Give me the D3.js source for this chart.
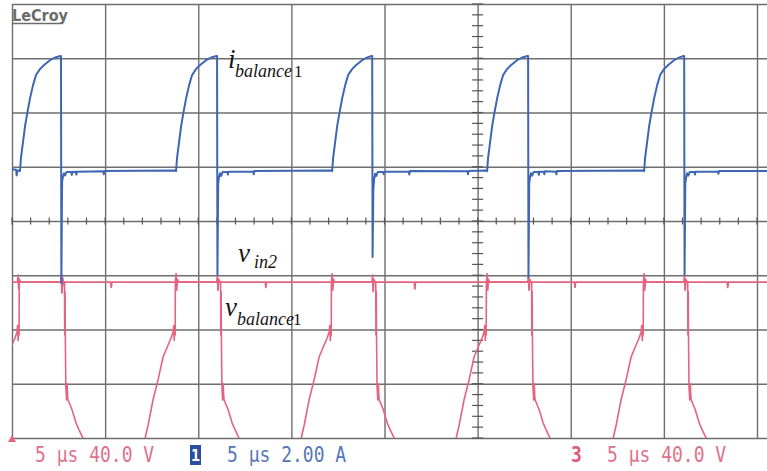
<!DOCTYPE html>
<html>
<head>
<meta charset="utf-8">
<script src="https://cdn.jsdelivr.net/npm/d3@7"></script>
<style>
  html, body { margin: 0; padding: 0; background: #ffffff; }
  svg { display: block; }
</style>
</head>
<body>
<div id="chart"></div>
<script>
// Screen setup: 8 x 8 divisions, 5 us/div horizontally.
const timeDivTicks = [0, 5, 10, 15, 20, 25, 30, 35, 40];        // us
const vertDivTicks = [-4, -3, -2, -1, 0, 1, 2, 3, 4];            // divisions

// Channel 1: i_balance1 (A), 2.00 A/div  -- [time us, current A]
const iBalance1 = [
  [0.00, 0.07], [0.22, 0.05], [0.25, -0.16], [0.30, 0.02], [0.43, 0.00],
  [0.48, 0.48], [0.59, 1.07], [0.70, 1.66], [0.81, 2.10], [0.97, 2.69], [1.13, 3.17],
  [1.29, 3.54], [1.50, 3.76], [1.72, 3.91], [2.04, 4.09], [2.36, 4.20], [2.60, 4.24],
  [2.63, 4.24], [2.65, -4.13], [2.69, -0.40], [2.73, -0.22], [2.79, -0.08], [2.85, -0.16],
  [2.93, -0.03], [3.18, -0.03], [3.21, -0.14], [3.24, -0.03], [3.43, -0.02], [3.46, -0.13],
  [3.49, -0.02], [4.90, -0.01], [4.93, -0.12], [4.96, 0.00], [8.76, 0.02],
  [8.81, 0.00], [8.86, 0.48], [8.97, 1.07], [9.08, 1.66], [9.19, 2.10], [9.35, 2.69],
  [9.51, 3.17], [9.67, 3.54], [9.88, 3.76], [10.10, 3.91], [10.42, 4.09], [10.74, 4.20],
  [10.98, 4.24], [11.01, 4.24], [11.03, -3.83], [11.07, -0.45], [11.11, -0.25],
  [11.17, -0.08], [11.23, -0.18], [11.31, -0.03], [11.56, -0.03], [11.59, -0.13],
  [11.62, -0.02], [12.95, -0.02], [12.98, -0.12], [13.01, 0.00], [17.14, 0.02],
  [17.19, 0.00], [17.24, 0.48], [17.35, 1.07], [17.46, 1.66], [17.57, 2.10], [17.73, 2.69],
  [17.89, 3.17], [18.05, 3.54], [18.26, 3.76], [18.48, 3.91], [18.80, 4.09], [19.12, 4.20],
  [19.31, 4.24], [19.34, 4.24], [19.36, -3.17], [19.40, -0.70], [19.44, -0.30],
  [19.50, -0.10], [19.56, -0.18], [19.64, -0.03], [19.93, -0.03], [19.96, -0.12],
  [19.99, -0.02], [21.30, -0.02], [21.33, -0.13], [21.36, 0.00], [24.45, -0.01],
  [24.48, -0.12], [24.51, 0.00], [25.46, 0.02],
  [25.51, 0.00], [25.56, 0.48], [25.67, 1.07], [25.78, 1.66], [25.89, 2.10], [26.05, 2.69],
  [26.21, 3.17], [26.37, 3.54], [26.58, 3.76], [26.80, 3.91], [27.12, 4.09], [27.44, 4.20],
  [27.68, 4.24], [27.71, 4.24], [27.73, -3.91], [27.77, -0.45], [27.81, -0.24],
  [27.87, -0.08], [27.93, -0.17], [28.01, -0.03], [28.26, -0.03], [28.29, -0.14],
  [28.32, -0.02], [28.55, -0.02], [28.58, -0.12], [28.61, -0.01], [29.20, -0.02],
  [29.23, -0.12], [29.26, 0.00], [33.89, 0.02],
  [33.94, 0.00], [33.99, 0.48], [34.10, 1.07], [34.21, 1.66], [34.32, 2.10], [34.48, 2.69],
  [34.64, 3.17], [34.80, 3.54], [35.01, 3.76], [35.23, 3.91], [35.55, 4.09], [35.87, 4.20],
  [36.06, 4.24], [36.09, 4.24], [36.11, -3.83], [36.15, -0.45], [36.19, -0.26],
  [36.25, -0.08], [36.31, -0.17], [36.39, -0.03], [36.64, -0.03], [36.67, -0.13],
  [36.70, -0.02], [37.90, -0.02], [37.93, -0.10], [37.96, 0.00], [40.60, 0.00]
];

// Channel 2: v_in2 (V), 40.0 V/div  -- [time us, voltage V]
const vIn2 = [
  [0.00, 115], [0.30, 115], [0.33, 120], [0.36, 110], [0.40, 117], [0.45, 115],
  [2.62, 115], [2.65, 121], [2.68, 107], [2.72, 118], [2.78, 113], [2.85, 115],
  [5.30, 115], [5.33, 111], [5.36, 115],
  [8.78, 115], [8.81, 121], [8.84, 109], [8.88, 117], [8.93, 115],
  [11.00, 115], [11.03, 120], [11.06, 109], [11.10, 117], [11.16, 115],
  [13.60, 115], [13.63, 111], [13.66, 115],
  [17.16, 115], [17.19, 121], [17.22, 109], [17.26, 117], [17.31, 115],
  [19.33, 115], [19.36, 120], [19.39, 108], [19.43, 117], [19.49, 115],
  [21.60, 115], [21.63, 110], [21.66, 115],
  [25.48, 115], [25.51, 121], [25.54, 109], [25.58, 117], [25.63, 115],
  [27.70, 115], [27.73, 120], [27.76, 109], [27.80, 117], [27.86, 115],
  [30.20, 115], [30.23, 111], [30.26, 115],
  [33.91, 115], [33.94, 121], [33.97, 109], [34.01, 117], [34.06, 115],
  [36.08, 115], [36.11, 120], [36.14, 109], [36.18, 117], [36.24, 115],
  [38.40, 115], [38.43, 111], [38.46, 115], [40.60, 115]
];

// Channel 3: v_balance1 (V), 40.0 V/div  -- [time us, voltage V]
const vBalance1 = [
  [-1.60, -30], [-1.23, 0], [-1.07, 9.6], [-0.81, 28.0], [-0.54, 42.8], [-0.27, 59.7],
  [0.00, 68.6], [0.16, 73.7], [0.27, 78.2], [0.30, 83], [0.33, 72], [0.36, 80], [0.38, 76],
  [0.39, 115],
  [2.82, 115], [2.83, 76], [2.85, 108], [2.86, 78], [2.89, 38], [2.93, 28], [2.96, 40],
  [2.99, 30], [3.01, 28], [3.22, 21], [3.44, 11], [3.63, 5], [3.81, 0], [4.03, -15],
  [4.43, -38], [5.60, -62],
  [6.61, -35], [6.96, -12], [7.15, 0], [7.31, 9.6], [7.57, 28], [7.84, 42.8], [8.11, 59.7],
  [8.38, 68.6], [8.54, 73.7], [8.65, 78.2], [8.68, 83], [8.71, 72], [8.74, 80], [8.76, 76],
  [8.77, 115],
  [11.20, 115], [11.21, 76], [11.23, 108], [11.24, 78], [11.27, 38], [11.31, 28], [11.34, 40],
  [11.37, 30], [11.39, 28], [11.60, 21], [11.82, 11], [12.01, 5], [12.19, 0], [12.41, -15],
  [12.81, -38], [14.00, -62],
  [14.99, -35], [15.34, -12], [15.53, 0], [15.69, 9.6], [15.95, 28], [16.22, 42.8],
  [16.49, 59.7], [16.76, 68.6], [16.92, 73.7], [17.03, 78.2], [17.06, 83], [17.09, 72],
  [17.12, 80], [17.14, 76], [17.15, 115],
  [19.53, 115], [19.54, 76], [19.56, 108], [19.57, 78], [19.60, 38], [19.64, 28], [19.67, 40],
  [19.70, 30], [19.72, 28], [19.93, 21], [20.15, 11], [20.34, 5], [20.52, 0], [20.74, -15],
  [21.14, -38], [22.30, -62],
  [23.31, -35], [23.66, -12], [23.85, 0], [24.01, 9.6], [24.27, 28], [24.54, 42.8],
  [24.81, 59.7], [25.08, 68.6], [25.24, 73.7], [25.35, 78.2], [25.38, 83], [25.41, 72],
  [25.44, 80], [25.46, 76], [25.47, 115],
  [27.90, 115], [27.91, 76], [27.93, 108], [27.94, 78], [27.97, 38], [28.01, 28], [28.04, 40],
  [28.07, 30], [28.09, 28], [28.30, 21], [28.52, 11], [28.71, 5], [28.89, 0], [29.11, -15],
  [29.51, -38], [30.70, -62],
  [31.74, -35], [32.09, -12], [32.28, 0], [32.44, 9.6], [32.70, 28], [32.97, 42.8],
  [33.24, 59.7], [33.51, 68.6], [33.67, 73.7], [33.78, 78.2], [33.81, 83], [33.84, 72],
  [33.87, 80], [33.89, 76], [33.90, 115],
  [36.28, 115], [36.29, 76], [36.31, 108], [36.32, 78], [36.35, 38], [36.39, 28], [36.42, 40],
  [36.45, 30], [36.47, 28], [36.68, 21], [36.90, 11], [37.09, 5], [37.27, 0], [37.49, -15],
  [37.89, -38], [39.10, -62], [41.00, -70]
];

// Channel readouts along the bottom
const readoutLeft = "5 \u03bcs 40.0 V";
const readoutMid = "5 \u03bcs 2.00 A";
const readoutRight = "5 \u03bcs 40.0 V";

const W = 767, H = 471;
const L = 12, R = 757, T = 4, B = 438;
const blue = "#3f66b4", pink = "#e4647f";

const svg = d3.select("#chart").append("svg").attr("width", W).attr("height", H);

const x = d3.scaleLinear().domain([0, 40]).range([L, R]);
const yDiv = d3.scaleLinear().domain([-4, 4]).range([B, T]);
// current channel: 2 A/div, zero level 0.92 div above centre
const yI = d3.scaleLinear().domain([(-4 - 0.92) * 2, (4 - 0.92) * 2]).range([B, T]);
// voltage channels: 40 V/div, zero level on the bottom edge
const yV = d3.scaleLinear().domain([0, 320]).range([B, T]);

// graticule
const grid = svg.append("g");
grid.append("g").attr("transform", `translate(0,${B})`)
  .call(d3.axisBottom(x).tickValues(timeDivTicks).tickSize(-(B - T)).tickFormat(""))
  .call(g => g.select(".domain").remove())
  .call(g => g.selectAll("line").attr("stroke", "#6e6e6e").attr("stroke-width", 1.4));
grid.append("g").attr("transform", `translate(${L},0)`)
  .call(d3.axisLeft(yDiv).tickValues(vertDivTicks).tickSize(-(W - L)).tickFormat(""))
  .call(g => g.select(".domain").remove())
  .call(g => g.selectAll("line").attr("stroke", "#6e6e6e").attr("stroke-width", 1.4));

// centre-axis minor ticks
const yc = yDiv(0), xc = x(25);
svg.append("g").selectAll("line").data(d3.range(0, 41, 1)).join("line")
  .attr("x1", d => x(d)).attr("x2", d => x(d))
  .attr("y1", yc - 3.5).attr("y2", yc + 3.5)
  .attr("stroke", "#555").attr("stroke-width", 1.2);
svg.append("g").selectAll("line").data(d3.range(-4, 4.01, 0.2)).join("line")
  .attr("x1", xc - 5.5).attr("x2", xc + 5.5)
  .attr("y1", d => yDiv(d)).attr("y2", d => yDiv(d))
  .attr("stroke", "#555").attr("stroke-width", 1.2);

// traces
svg.append("clipPath").attr("id", "screen")
  .append("rect").attr("x", L).attr("y", T).attr("width", W - L).attr("height", B - T);
const traces = svg.append("g").attr("clip-path", "url(#screen)").attr("fill", "none")
  .attr("stroke-linejoin", "round");

traces.append("path").datum(vIn2)
  .attr("d", d3.line().x(d => x(d[0])).y(d => yV(d[1])))
  .attr("stroke", pink).attr("stroke-width", 1.8);
traces.append("path").datum(vBalance1)
  .attr("d", d3.line().x(d => x(d[0])).y(d => yV(d[1])))
  .attr("stroke", pink).attr("stroke-width", 1.6);
traces.append("path").datum(iBalance1)
  .attr("d", d3.line().x(d => x(d[0])).y(d => yI(d[1])))
  .attr("stroke", blue).attr("stroke-width", 2);

// ground marker for the voltage channels
svg.append("path").attr("d", `M${L - 4},${B + 4} L${L},${B - 3} L${L + 4},${B + 4} Z`)
  .attr("fill", pink);

// trace labels
const serif = "'Liberation Serif', 'Times New Roman', serif";
function label(xp, yp, main, sub, idx, mainSize, subX, subDy, idxX) {
  const g = svg.append("g").attr("font-family", serif).attr("fill", "#151515");
  g.append("text").attr("x", xp).attr("y", yp).attr("font-size", mainSize)
    .attr("font-style", "italic").text(main);
  g.append("text").attr("x", subX).attr("y", yp + subDy).attr("font-size", 18)
    .attr("font-style", "italic").text(sub);
  if (idx) g.append("text").attr("x", idxX).attr("y", yp + subDy).attr("font-size", 17).text(idx);
}
label(228, 68, "i", "balance", "1", 27, 235, 9, 294);
label(238, 262, "v", "in2", null, 27, 254, 6, 0);
label(225, 316, "v", "balance", "1", 27, 237, 9, 293);

// brand mark
svg.append("text").attr("x", L).attr("y", 21).attr("font-family", "'DejaVu Sans Condensed', 'DejaVu Sans', sans-serif")
  .attr("font-weight", "bold").attr("font-size", 15).attr("fill", "#6b6b6b")
  .attr("textLength", 56).attr("lengthAdjust", "spacingAndGlyphs").text("LeCroy");
svg.append("line").attr("x1", L).attr("x2", L + 51).attr("y1", 23.5).attr("y2", 23.5)
  .attr("stroke", "#6b6b6b").attr("stroke-width", 1.6);

// readouts
const mono = "'DejaVu Sans Mono', 'Liberation Mono', monospace";
function readout(xp, txt, col) {
  svg.append("text").attr("transform", `translate(${xp},462) scale(1,1.22)`)
    .attr("font-family", mono).attr("font-size", 18).attr("fill", col).text(txt);
}
readout(35, readoutLeft, "#e0708a");
readout(227, readoutMid, "#5577b8");
readout(607, readoutRight, "#e0708a");

svg.append("rect").attr("x", 190).attr("y", 445).attr("width", 11).attr("height", 20).attr("fill", "#2a4f9e");
svg.append("text").attr("x", 195.5).attr("y", 461).attr("text-anchor", "middle")
  .attr("font-family", mono).attr("font-weight", "bold").attr("font-size", 15).attr("fill", "#fff").text("1");
svg.append("text").attr("transform", "translate(571,462) scale(1,1.22)")
  .attr("font-family", mono).attr("font-weight", "bold").attr("font-size", 18).attr("fill", "#e05a78").text("3");
</script>
</body>
</html>
